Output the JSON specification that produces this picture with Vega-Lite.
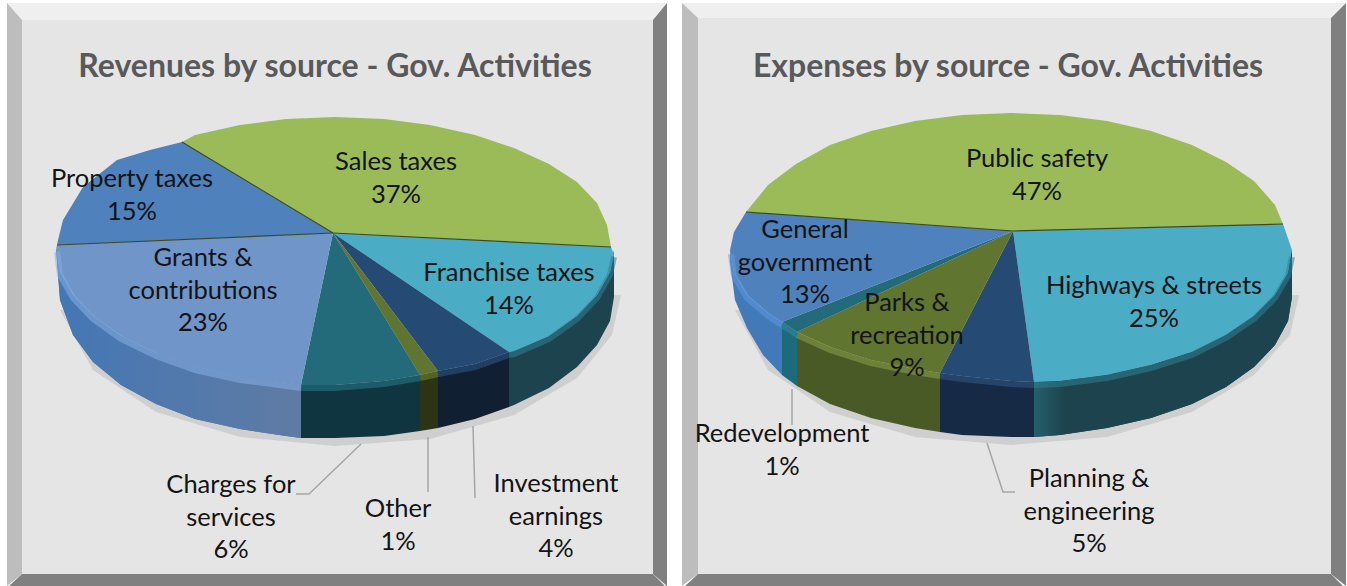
{"$schema":"https://vega.github.io/schema/vega-lite/v6.json","width":1347,"height":586,"padding":0,"autosize":{"type":"fit","contains":"padding"},"background":"#ffffff","config":{"view":{"stroke":null}},
"datasets":{
"shapes":[
{"id":"L panel","x":22,"y":20},{"id":"L panel","x":653,"y":20},{"id":"L panel","x":653,"y":574},{"id":"L panel","x":22,"y":574},
{"id":"L top","x":7,"y":3},{"id":"L top","x":667,"y":3},{"id":"L top","x":653,"y":20},{"id":"L top","x":22,"y":20},
{"id":"L left","x":7,"y":3},{"id":"L left","x":22,"y":20},{"id":"L left","x":22,"y":574},{"id":"L left","x":7,"y":586},
{"id":"L right","x":667,"y":3},{"id":"L right","x":667,"y":586},{"id":"L right","x":653,"y":574},{"id":"L right","x":653,"y":20},
{"id":"L bottom","x":22,"y":574},{"id":"L bottom","x":653,"y":574},{"id":"L bottom","x":665,"y":586},{"id":"L bottom","x":9,"y":586},
{"id":"R panel","x":698,"y":18},{"id":"R panel","x":1331,"y":18},{"id":"R panel","x":1331,"y":574},{"id":"R panel","x":698,"y":574},
{"id":"R top","x":682,"y":3},{"id":"R top","x":1346,"y":3},{"id":"R top","x":1331,"y":18},{"id":"R top","x":698,"y":18},
{"id":"R left","x":682,"y":3},{"id":"R left","x":698,"y":18},{"id":"R left","x":698,"y":574},{"id":"R left","x":682,"y":586},
{"id":"R right","x":1346,"y":3},{"id":"R right","x":1346,"y":586},{"id":"R right","x":1331,"y":574},{"id":"R right","x":1331,"y":18},
{"id":"R bottom","x":698,"y":574},{"id":"R bottom","x":1331,"y":574},{"id":"R bottom","x":1343,"y":586},{"id":"R bottom","x":685,"y":586},
{"id":"L shadow","x":60,"y":310},{"id":"L shadow","x":93,"y":370},{"id":"L shadow","x":156,"y":412},{"id":"L shadow","x":240,"y":437},{"id":"L shadow","x":335,"y":446},{"id":"L shadow","x":430,"y":439},{"id":"L shadow","x":514,"y":415},{"id":"L shadow","x":577,"y":378},{"id":"L shadow","x":612,"y":335},{"id":"L shadow","x":621,"y":295},
{"id":"R shadow","x":735,"y":310},{"id":"R shadow","x":768,"y":370},{"id":"R shadow","x":830,"y":412},{"id":"R shadow","x":915,"y":437},{"id":"R shadow","x":1011,"y":445},{"id":"R shadow","x":1107,"y":437},{"id":"R shadow","x":1192,"y":412},{"id":"R shadow","x":1254,"y":375},{"id":"R shadow","x":1290,"y":335},{"id":"R shadow","x":1299,"y":295},
{"id":"Franchise side","x":614,"y":250},{"id":"Franchise side","x":610,"y":272},{"id":"Franchise side","x":597,"y":295},{"id":"Franchise side","x":577,"y":316},{"id":"Franchise side","x":549,"y":336},{"id":"Franchise side","x":514,"y":351},{"id":"Franchise side","x":509,"y":352},{"id":"Franchise side","x":509,"y":407},{"id":"Franchise side","x":514,"y":405},{"id":"Franchise side","x":549,"y":388},{"id":"Franchise side","x":577,"y":367},{"id":"Franchise side","x":597,"y":345},{"id":"Franchise side","x":610,"y":321},{"id":"Franchise side","x":614,"y":297},
{"id":"Investment side","x":509,"y":352},{"id":"Investment side","x":475,"y":364},{"id":"Investment side","x":438,"y":371},{"id":"Investment side","x":438,"y":428},{"id":"Investment side","x":475,"y":419},{"id":"Investment side","x":509,"y":407},
{"id":"Other side","x":438,"y":371},{"id":"Other side","x":420,"y":375},{"id":"Other side","x":420,"y":431},{"id":"Other side","x":438,"y":428},
{"id":"Charges side","x":420,"y":375},{"id":"Charges side","x":384,"y":381},{"id":"Charges side","x":335,"y":385},{"id":"Charges side","x":301,"y":385},{"id":"Charges side","x":301,"y":438},{"id":"Charges side","x":335,"y":438},{"id":"Charges side","x":384,"y":436},{"id":"Charges side","x":420,"y":431},
{"id":"Grants side","x":301,"y":385},{"id":"Grants side","x":286,"y":383},{"id":"Grants side","x":240,"y":377},{"id":"Grants side","x":195,"y":367},{"id":"Grants side","x":156,"y":353},{"id":"Grants side","x":121,"y":336},{"id":"Grants side","x":93,"y":316},{"id":"Grants side","x":73,"y":295},{"id":"Grants side","x":60,"y":272},{"id":"Grants side","x":56,"y":248},{"id":"Grants side","x":60,"y":300},{"id":"Grants side","x":73,"y":335},{"id":"Grants side","x":93,"y":362},{"id":"Grants side","x":121,"y":385},{"id":"Grants side","x":156,"y":404},{"id":"Grants side","x":195,"y":419},{"id":"Grants side","x":240,"y":429},{"id":"Grants side","x":286,"y":436},{"id":"Grants side","x":301,"y":438},
{"id":"Sales top","x":333,"y":233},{"id":"Sales top","x":182,"y":142},{"id":"Sales top","x":195,"y":135},{"id":"Sales top","x":240,"y":125},{"id":"Sales top","x":286,"y":119},{"id":"Sales top","x":335,"y":117},{"id":"Sales top","x":384,"y":119},{"id":"Sales top","x":430,"y":125},{"id":"Sales top","x":475,"y":135},{"id":"Sales top","x":514,"y":148},{"id":"Sales top","x":549,"y":164},{"id":"Sales top","x":577,"y":182},{"id":"Sales top","x":597,"y":203},{"id":"Sales top","x":607,"y":225},{"id":"Sales top","x":611,"y":247},
{"id":"Franchise top","x":333,"y":233},{"id":"Franchise top","x":611,"y":247},{"id":"Franchise top","x":614,"y":255},{"id":"Franchise top","x":610,"y":272},{"id":"Franchise top","x":597,"y":295},{"id":"Franchise top","x":577,"y":316},{"id":"Franchise top","x":549,"y":336},{"id":"Franchise top","x":514,"y":351},{"id":"Franchise top","x":509,"y":352},
{"id":"Investment top","x":333,"y":233},{"id":"Investment top","x":509,"y":352},{"id":"Investment top","x":475,"y":364},{"id":"Investment top","x":438,"y":371},
{"id":"Other top","x":333,"y":233},{"id":"Other top","x":438,"y":371},{"id":"Other top","x":420,"y":375},
{"id":"Charges top","x":333,"y":233},{"id":"Charges top","x":420,"y":375},{"id":"Charges top","x":384,"y":381},{"id":"Charges top","x":335,"y":385},{"id":"Charges top","x":301,"y":385},
{"id":"Grants top","x":333,"y":233},{"id":"Grants top","x":301,"y":385},{"id":"Grants top","x":286,"y":383},{"id":"Grants top","x":240,"y":377},{"id":"Grants top","x":195,"y":367},{"id":"Grants top","x":156,"y":353},{"id":"Grants top","x":121,"y":336},{"id":"Grants top","x":93,"y":316},{"id":"Grants top","x":73,"y":295},{"id":"Grants top","x":60,"y":272},{"id":"Grants top","x":56,"y":250},{"id":"Grants top","x":57,"y":245},
{"id":"Property top","x":333,"y":233},{"id":"Property top","x":57,"y":245},{"id":"Property top","x":58,"y":240},{"id":"Property top","x":63,"y":220},{"id":"Property top","x":83,"y":187},{"id":"Property top","x":117,"y":160},{"id":"Property top","x":150,"y":150},{"id":"Property top","x":182,"y":142},
{"id":"Highways side","x":1292,"y":250},{"id":"Highways side","x":1288,"y":273},{"id":"Highways side","x":1275,"y":295},{"id":"Highways side","x":1254,"y":316},{"id":"Highways side","x":1226,"y":335},{"id":"Highways side","x":1192,"y":352},{"id":"Highways side","x":1151,"y":365},{"id":"Highways side","x":1107,"y":375},{"id":"Highways side","x":1060,"y":381},{"id":"Highways side","x":1034,"y":382},{"id":"Highways side","x":1034,"y":437},{"id":"Highways side","x":1060,"y":435},{"id":"Highways side","x":1107,"y":428},{"id":"Highways side","x":1151,"y":418},{"id":"Highways side","x":1192,"y":404},{"id":"Highways side","x":1226,"y":387},{"id":"Highways side","x":1254,"y":367},{"id":"Highways side","x":1275,"y":345},{"id":"Highways side","x":1288,"y":321},{"id":"Highways side","x":1292,"y":297},
{"id":"Planning side","x":1034,"y":382},{"id":"Planning side","x":1011,"y":381},{"id":"Planning side","x":962,"y":376},{"id":"Planning side","x":940,"y":373},{"id":"Planning side","x":940,"y":432},{"id":"Planning side","x":962,"y":435},{"id":"Planning side","x":1011,"y":437},{"id":"Planning side","x":1034,"y":437},
{"id":"Parks side","x":940,"y":373},{"id":"Parks side","x":915,"y":369},{"id":"Parks side","x":871,"y":360},{"id":"Parks side","x":830,"y":347},{"id":"Parks side","x":797,"y":332},{"id":"Parks side","x":797,"y":386},{"id":"Parks side","x":830,"y":404},{"id":"Parks side","x":871,"y":418},{"id":"Parks side","x":915,"y":428},{"id":"Parks side","x":940,"y":432},
{"id":"Redevelopment side","x":797,"y":332},{"id":"Redevelopment side","x":782,"y":322},{"id":"Redevelopment side","x":782,"y":375},{"id":"Redevelopment side","x":797,"y":386},
{"id":"General side","x":782,"y":322},{"id":"General side","x":768,"y":313},{"id":"General side","x":747,"y":295},{"id":"General side","x":734,"y":273},{"id":"General side","x":730,"y":250},{"id":"General side","x":730,"y":262},{"id":"General side","x":735,"y":300},{"id":"General side","x":747,"y":328},{"id":"General side","x":763,"y":355},{"id":"General side","x":782,"y":375},
{"id":"Public top","x":1013,"y":231},{"id":"Public top","x":746,"y":212},{"id":"Public top","x":768,"y":185},{"id":"Public top","x":796,"y":164},{"id":"Public top","x":830,"y":145},{"id":"Public top","x":871,"y":131},{"id":"Public top","x":915,"y":121},{"id":"Public top","x":962,"y":115},{"id":"Public top","x":1011,"y":113},{"id":"Public top","x":1060,"y":115},{"id":"Public top","x":1107,"y":121},{"id":"Public top","x":1151,"y":131},{"id":"Public top","x":1192,"y":145},{"id":"Public top","x":1226,"y":162},{"id":"Public top","x":1254,"y":181},{"id":"Public top","x":1275,"y":205},{"id":"Public top","x":1283,"y":224},
{"id":"Highways top","x":1013,"y":231},{"id":"Highways top","x":1283,"y":224},{"id":"Highways top","x":1292,"y":250},{"id":"Highways top","x":1288,"y":273},{"id":"Highways top","x":1275,"y":295},{"id":"Highways top","x":1254,"y":316},{"id":"Highways top","x":1226,"y":335},{"id":"Highways top","x":1192,"y":352},{"id":"Highways top","x":1151,"y":365},{"id":"Highways top","x":1107,"y":375},{"id":"Highways top","x":1060,"y":381},{"id":"Highways top","x":1034,"y":382},
{"id":"Planning top","x":1013,"y":231},{"id":"Planning top","x":1034,"y":382},{"id":"Planning top","x":1011,"y":381},{"id":"Planning top","x":962,"y":376},{"id":"Planning top","x":940,"y":373},
{"id":"Parks top","x":1013,"y":231},{"id":"Parks top","x":940,"y":373},{"id":"Parks top","x":915,"y":369},{"id":"Parks top","x":871,"y":360},{"id":"Parks top","x":830,"y":347},{"id":"Parks top","x":797,"y":332},
{"id":"Redevelopment top","x":1013,"y":231},{"id":"Redevelopment top","x":797,"y":332},{"id":"Redevelopment top","x":782,"y":322},
{"id":"General top","x":1013,"y":231},{"id":"General top","x":782,"y":322},{"id":"General top","x":768,"y":313},{"id":"General top","x":747,"y":295},{"id":"General top","x":734,"y":273},{"id":"General top","x":730,"y":250},{"id":"General top","x":734,"y":232},{"id":"General top","x":746,"y":212}
],
"rims":[
{"id":"Franchise","x":614,"y":257},{"id":"Franchise","x":610,"y":275},{"id":"Franchise","x":597,"y":298},{"id":"Franchise","x":577,"y":319},{"id":"Franchise","x":549,"y":339},{"id":"Franchise","x":514,"y":354},{"id":"Franchise","x":509,"y":355},
{"id":"Investment","x":509,"y":355},{"id":"Investment","x":475,"y":367},{"id":"Investment","x":438,"y":374},
{"id":"Other","x":438,"y":374},{"id":"Other","x":420,"y":378},
{"id":"Charges","x":420,"y":378},{"id":"Charges","x":384,"y":384},{"id":"Charges","x":335,"y":388},{"id":"Charges","x":301,"y":388},
{"id":"Grants","x":301,"y":388},{"id":"Grants","x":286,"y":386},{"id":"Grants","x":240,"y":380},{"id":"Grants","x":195,"y":370},{"id":"Grants","x":156,"y":356},{"id":"Grants","x":121,"y":339},{"id":"Grants","x":93,"y":319},{"id":"Grants","x":73,"y":298},{"id":"Grants","x":60,"y":275},{"id":"Grants","x":57,"y":252},
{"id":"Highways","x":1292,"y":257},{"id":"Highways","x":1288,"y":276},{"id":"Highways","x":1275,"y":298},{"id":"Highways","x":1254,"y":319},{"id":"Highways","x":1226,"y":338},{"id":"Highways","x":1192,"y":355},{"id":"Highways","x":1151,"y":368},{"id":"Highways","x":1107,"y":378},{"id":"Highways","x":1060,"y":384},{"id":"Highways","x":1034,"y":385},
{"id":"Planning","x":1034,"y":385},{"id":"Planning","x":1011,"y":384},{"id":"Planning","x":962,"y":379},{"id":"Planning","x":940,"y":376},
{"id":"Parks","x":940,"y":376},{"id":"Parks","x":915,"y":372},{"id":"Parks","x":871,"y":363},{"id":"Parks","x":830,"y":350},{"id":"Parks","x":797,"y":335},
{"id":"Redevelopment","x":797,"y":335},{"id":"Redevelopment","x":782,"y":325},
{"id":"General","x":782,"y":325},{"id":"General","x":768,"y":316},{"id":"General","x":747,"y":298},{"id":"General","x":734,"y":276},{"id":"General","x":731,"y":254}
],
"leaders":[
{"id":"Charges for services","x":361,"y":444},{"id":"Charges for services","x":309,"y":494},{"id":"Charges for services","x":296,"y":494},
{"id":"Other","x":428,"y":437},{"id":"Other","x":428,"y":492},
{"id":"Investment earnings","x":473,"y":426},{"id":"Investment earnings","x":475,"y":498},
{"id":"Redevelopment","x":792,"y":389},{"id":"Redevelopment","x":792,"y":425},
{"id":"Planning","x":987,"y":443},{"id":"Planning","x":1003,"y":492},{"id":"Planning","x":1015,"y":492}
],
"spokes":[
{"id":"a","x":333,"y":233},{"id":"a","x":182,"y":142},
{"id":"b","x":333,"y":233},{"id":"b","x":57,"y":245},
{"id":"c","x":333,"y":233},{"id":"c","x":611,"y":247},
{"id":"d","x":1013,"y":231},{"id":"d","x":746,"y":212},
{"id":"e","x":1013,"y":231},{"id":"e","x":1283,"y":224}
],
"labels":[
{"text":"Sales taxes\n37%","x":396,"y":162},
{"text":"Property taxes\n15%","x":132,"y":179},
{"text":"Grants &\ncontributions\n23%","x":203,"y":258},
{"text":"Franchise taxes\n14%","x":509,"y":273},
{"text":"Charges for\nservices\n6%","x":231,"y":485},
{"text":"Other\n1%","x":398,"y":509},
{"text":"Investment\nearnings\n4%","x":556,"y":484},
{"text":"Public safety\n47%","x":1037,"y":159},
{"text":"General\ngovernment\n13%","x":805,"y":230},
{"text":"Highways & streets\n25%","x":1154,"y":286},
{"text":"Parks &\nrecreation\n9%","x":907,"y":303},
{"text":"Redevelopment\n1%","x":782,"y":434},
{"text":"Planning &\nengineering\n5%","x":1089,"y":479}
],
"titles":[
{"text":"Revenues by source - Gov. Activities","x":335,"y":67},
{"text":"Expenses by source - Gov. Activities","x":1008,"y":67}
]},
"layer":[
{"data":{"name":"shapes"},"transform":[{"window":[{"op":"row_number","as":"n"}]}],
"mark":{"type":"line","filled":true,"strokeWidth":0},
"encoding":{"x":{"field":"x","type":"quantitative","scale":{"domain":[0,1347],"nice":false,"zero":false},"axis":null},
"y":{"field":"y","type":"quantitative","scale":{"domain":[586,0],"nice":false,"zero":false},"axis":null},
"order":{"field":"n","type":"quantitative"},
"color":{"field":"id","type":"nominal","legend":null,"scale":{
"domain":["L panel","L top","L left","L right","L bottom","R panel","R top","R left","R right","R bottom","L shadow","R shadow","Franchise side","Investment side","Other side","Charges side","Grants side","Sales top","Franchise top","Investment top","Other top","Charges top","Grants top","Property top","Highways side","Planning side","Parks side","Redevelopment side","General side","Public top","Highways top","Planning top","Parks top","Redevelopment top","General top"],
"range":["#e5e5e5","#efefef","#bdbdbd","#808080","#808080","#e5e5e5","#efefef","#bdbdbd","#808080","#808080","#cfcfcf","#cfcfcf","#1d434e","#111f33","#2b3513","#0f3540","#5678a6","#9bbb59","#4bacc6","#254a73","#5f7530","#236a7a","#7095c9","#4f81bd","#1f4a56","#172a45","#4a5a26","#1d6a7c","#4279b8","#9bbb59","#4bacc6","#254a73","#5f7530","#236a7a","#4f81bd"]}}}},
{"data":{"name":"shapes"},"transform":[{"filter":"datum.id === 'Grants side'"},{"window":[{"op":"row_number","as":"n"}]}],
"mark":{"type":"line","strokeWidth":0,"fill":{"gradient":"linear","x1":0,"y1":0,"x2":1,"y2":0,"stops":[{"offset":0,"color":"#4477b5"},{"offset":1,"color":"#5f7ba3"}]}},
"encoding":{"x":{"field":"x","type":"quantitative","scale":{"domain":[0,1347],"nice":false,"zero":false},"axis":null},"y":{"field":"y","type":"quantitative","scale":{"domain":[586,0],"nice":false,"zero":false},"axis":null},"order":{"field":"n","type":"quantitative"}}},
{"data":{"name":"shapes"},"transform":[{"filter":"datum.id === 'Highways side'"},{"window":[{"op":"row_number","as":"n"}]}],
"mark":{"type":"line","strokeWidth":0,"fill":{"gradient":"linear","x1":0,"y1":0,"x2":1,"y2":0,"stops":[{"offset":0,"color":"#24606d"},{"offset":0.12,"color":"#1d434e"},{"offset":1,"color":"#1d434e"}]}},
"encoding":{"x":{"field":"x","type":"quantitative","scale":{"domain":[0,1347],"nice":false,"zero":false},"axis":null},"y":{"field":"y","type":"quantitative","scale":{"domain":[586,0],"nice":false,"zero":false},"axis":null},"order":{"field":"n","type":"quantitative"}}},
{"data":{"name":"rims"},"transform":[{"window":[{"op":"row_number","as":"n"}]}],
"mark":{"type":"line","strokeWidth":6,"strokeOpacity":0.55,"strokeCap":"butt"},
"encoding":{"x":{"field":"x","type":"quantitative","scale":{"domain":[0,1347],"nice":false,"zero":false},"axis":null},"y":{"field":"y","type":"quantitative","scale":{"domain":[586,0],"nice":false,"zero":false},"axis":null},"order":{"field":"n","type":"quantitative"},
"stroke":{"field":"id","type":"nominal","legend":null,"scale":{"domain":["Franchise","Investment","Other","Charges","Grants","Highways","Planning","Parks","Redevelopment","General"],"range":["#2f7f94","#2f5a88","#71893a","#2a7a8c","#86aee3","#2f7f94","#2f5a88","#8aa347","#2f8a9e","#5f9be0"]}}}},
{"data":{"name":"spokes"},
"mark":{"type":"line","strokeWidth":1.2,"stroke":"#3c4a22"},
"encoding":{"x":{"field":"x","type":"quantitative","scale":{"domain":[0,1347],"nice":false,"zero":false},"axis":null},"y":{"field":"y","type":"quantitative","scale":{"domain":[586,0],"nice":false,"zero":false},"axis":null},"detail":{"field":"id"}}},
{"data":{"name":"leaders"},"transform":[{"window":[{"op":"row_number","as":"n"}]}],
"mark":{"type":"line","strokeWidth":1.5,"stroke":"#a6a6a6"},
"encoding":{"x":{"field":"x","type":"quantitative","scale":{"domain":[0,1347],"nice":false,"zero":false},"axis":null},"y":{"field":"y","type":"quantitative","scale":{"domain":[586,0],"nice":false,"zero":false},"axis":null},"detail":{"field":"id"},"order":{"field":"n","type":"quantitative"}}},
{"data":{"name":"labels"},
"mark":{"type":"text","font":"Lato","fontSize":25.5,"color":"#141414","align":"center","baseline":"middle","lineBreak":"\n","lineHeight":32.5},
"encoding":{"x":{"field":"x","type":"quantitative","scale":{"domain":[0,1347],"nice":false,"zero":false},"axis":null},"y":{"field":"y","type":"quantitative","scale":{"domain":[586,0],"nice":false,"zero":false},"axis":null},"text":{"field":"text"}}},
{"data":{"name":"titles"},
"mark":{"type":"text","font":"Lato","fontSize":32,"fontWeight":"bold","color":"#595959","align":"center","baseline":"middle"},
"encoding":{"x":{"field":"x","type":"quantitative","scale":{"domain":[0,1347],"nice":false,"zero":false},"axis":null},"y":{"field":"y","type":"quantitative","scale":{"domain":[586,0],"nice":false,"zero":false},"axis":null},"text":{"field":"text"}}}
]}
